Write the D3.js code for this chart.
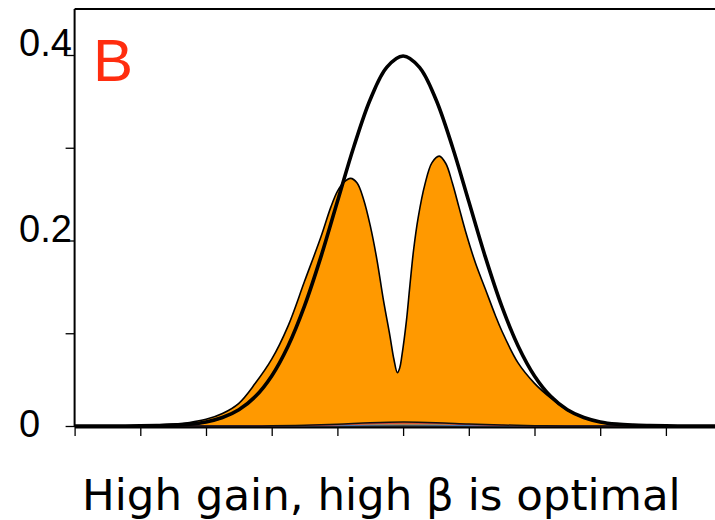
<!DOCTYPE html>
<html>
<head>
<meta charset="utf-8">
<script src="https://cdn.jsdelivr.net/npm/d3@7"></script>
<style>
  html, body { margin: 0; padding: 0; background: #fff; }
  svg { display: block; }
</style>
</head>
<body>
<svg id="chart" width="715" height="520"></svg>
<script>
// Sample positions (standardised units) for the reference curve
const refX = [-5, -4.75, -4.5, -4.25, -4, -3.75, -3.5, -3.25, -3, -2.75, -2.5, -2.25, -2, -1.75, -1.5, -1.25, -1, -0.75, -0.5, -0.25,
              0, 0.25, 0.5, 0.75, 1, 1.25, 1.5, 1.75, 2, 2.25, 2.5, 2.75, 3, 3.25, 3.5, 3.75, 4, 4.25, 4.5, 4.75, 5];
// Reference density (black outline)
const refY = [0, 0, 0, 0, 0.0001, 0.0004, 0.0009, 0.0020, 0.0044, 0.0091, 0.0175, 0.0317, 0.0540, 0.0863, 0.1295, 0.1826, 0.2420, 0.3011, 0.3521, 0.3867,
              0.3989, 0.3867, 0.3521, 0.3011, 0.2420, 0.1826, 0.1295, 0.0863, 0.0540, 0.0317, 0.0175, 0.0091, 0.0044, 0.0020, 0.0009, 0.0004, 0.0001, 0, 0, 0, 0];

// Bimodal density (orange area)
const bimodalX = [-5, -4.5, -4, -3.5, -3.25, -3, -2.75, -2.5, -2.25, -2, -1.75, -1.5, -1.25, -1.1, -1.0, -0.9, -0.8, -0.7, -0.6, -0.5,
                  -0.4, -0.3, -0.2, -0.14, -0.087, -0.05, -0.02, 0.05, 0.1, 0.16, 0.23, 0.33, 0.44, 0.55, 0.65, 0.75, 0.85, 0.95,
                  1.1, 1.25, 1.4, 1.5, 1.75, 2, 2.25, 2.5, 2.75, 3, 3.25, 3.5, 4, 4.5, 5];
const bimodalY = [0, 0.0002, 0.0006, 0.002, 0.0038, 0.0072, 0.0135, 0.0245, 0.046, 0.072, 0.108, 0.156, 0.204, 0.236, 0.253, 0.263, 0.267, 0.262, 0.244, 0.216,
                  0.180, 0.136, 0.097, 0.072, 0.0575, 0.063, 0.075, 0.113, 0.149, 0.190, 0.225, 0.260, 0.284, 0.291, 0.283, 0.262, 0.236, 0.210,
                  0.176, 0.148, 0.120, 0.103, 0.068, 0.046, 0.030, 0.017, 0.0088, 0.0042, 0.0018, 0.0007, 0.0001, 0, 0];

// Small residual densities along the baseline
const lowX = [-5, -2.5, -2, -1.5, -1, -0.5, 0, 0.5, 1, 1.5, 2, 2.5, 5];
const lowDark = [0, 0, 0.0002, 0.0008, 0.0018, 0.0034, 0.0042, 0.0036, 0.0022, 0.0011, 0.0004, 0, 0];
const lowRed  = [0, 0, 0.0001, 0.0005, 0.0013, 0.0026, 0.0030, 0.0028, 0.0016, 0.0007, 0.0002, 0, 0];
const lowBlue = [0, 0, 0, 0.0002, 0.0005, 0.0009, 0.0011, 0.0009, 0.0005, 0.0002, 0, 0, 0];

// Axis ticks and labels
const yTicks = [0, 0.1, 0.2, 0.3, 0.4];
const yLabels = [
  { v: 0.4, text: "0.4" },
  { v: 0.2, text: "0.2" },
  { v: 0,   text: "0" }
];
const xTicks = [-5, -4, -3, -2, -1, 0, 1, 2, 3, 4, 5];
const panelLabel = "B";
const caption = "High gain, high \u03b2 is optimal";

const svg = d3.select("#chart");
const W = 715, H = 520;

const x = d3.scaleLinear().domain([-5, 5]).range([74.6, 731.6]);
const y = d3.scaleLinear().domain([0, 0.4]).range([426, 55]);

const plotTop = 9;

// Clip region for the plotted curves
svg.append("defs").append("clipPath").attr("id", "plotClip")
  .append("rect").attr("x", x(-5)).attr("y", plotTop).attr("width", W - x(-5)).attr("height", y(0) - plotTop + 3);

const pts = (xs, ys) => xs.map((d, i) => [d, ys[i]]);
const smooth = d3.curveCatmullRom.alpha(0.5);

const g = svg.append("g").attr("clip-path", "url(#plotClip)");

// Orange bimodal area
const area = d3.area()
  .x(d => x(d[0])).y0(y(0)).y1(d => y(Math.max(0, d[1])))
  .curve(smooth);
g.append("path")
  .datum(pts(bimodalX, bimodalY))
  .attr("d", area)
  .attr("fill", "#ff9900")
  .attr("stroke", "#000")
  .attr("stroke-width", 1.6)
  .attr("stroke-linejoin", "round");

const line = d3.line().x(d => x(d[0])).y(d => y(d[1])).curve(smooth);

// Residual curves hugging the baseline
g.append("path").datum(pts(lowX, lowBlue)).attr("d", line)
  .attr("fill", "none").attr("stroke", "#4a78b0").attr("stroke-width", 1.2);
g.append("path").datum(pts(lowX, lowRed)).attr("d", line)
  .attr("fill", "none").attr("stroke", "#d04040").attr("stroke-width", 1.2);
g.append("path").datum(pts(lowX, lowDark)).attr("d", line)
  .attr("fill", "none").attr("stroke", "#111").attr("stroke-width", 1.5);

// Black reference density
g.append("path")
  .datum(pts(refX, refY))
  .attr("d", line)
  .attr("fill", "none")
  .attr("stroke", "#000")
  .attr("stroke-width", 3.6)
  .attr("stroke-linejoin", "round");

// Y axis
const yAxis = d3.axisLeft(y).tickValues(yTicks).tickSize(9).tickFormat("");
const yg = svg.append("g").attr("transform", `translate(${x(-5)},0)`).call(yAxis);
yg.select(".domain").remove();
yg.selectAll(".tick line").attr("stroke", "#000").attr("stroke-width", 1.3);
svg.append("line")
  .attr("x1", x(-5)).attr("x2", x(-5))
  .attr("y1", plotTop).attr("y2", y(0) + 1)
  .attr("stroke", "#000").attr("stroke-width", 2);

// Top frame line
svg.append("line")
  .attr("x1", x(-5)).attr("x2", W)
  .attr("y1", plotTop).attr("y2", plotTop)
  .attr("stroke", "#000").attr("stroke-width", 2);

// X axis
const xAxis = d3.axisBottom(x).tickValues(xTicks).tickSize(9).tickSizeOuter(0).tickFormat("");
const xg = svg.append("g").attr("transform", `translate(0,${y(0) + 1})`).call(xAxis);
xg.select(".domain").attr("stroke", "#000").attr("stroke-width", 2);
xg.selectAll(".tick line").attr("stroke", "#000").attr("stroke-width", 1.3);

// Y tick labels
svg.selectAll("text.ylab")
  .data(yLabels)
  .join("text")
  .attr("class", "ylab")
  .attr("x", 19)
  .attr("y", d => d.v === 0 ? y(d.v) + 11 : y(d.v) + 1)
  .attr("font-family", "Liberation Sans, Arial, sans-serif")
  .attr("font-size", 38)
  .attr("fill", "#000")
  .text(d => d.text);

// Panel letter
svg.append("text")
  .attr("x", 93)
  .attr("y", 81)
  .attr("font-family", "Liberation Sans, Arial, sans-serif")
  .attr("font-size", 60)
  .attr("fill", "#ff2d0f")
  .text(panelLabel);

// Caption
svg.append("text")
  .attr("x", 82)
  .attr("y", 510)
  .attr("font-family", "DejaVu Sans, Verdana, sans-serif")
  .attr("font-size", 43.5)
  .attr("fill", "#000")
  .text(caption);
</script>
</body>
</html>
